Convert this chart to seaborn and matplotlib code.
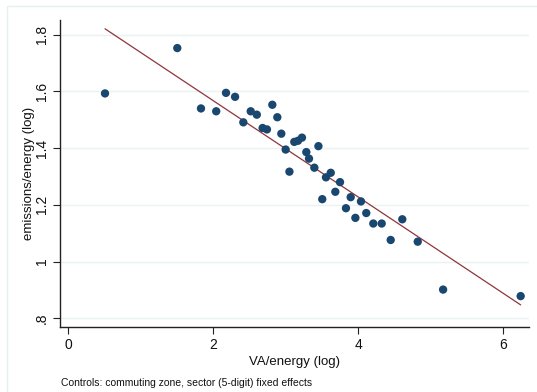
import matplotlib
matplotlib.use("Agg")
import matplotlib.pyplot as plt
import seaborn as sns
import pandas as pd
from matplotlib.patches import Rectangle

# Binned scatter values
va_energy = [0.506, 1.503, 1.83, 2.04, 2.175, 2.30, 2.414, 2.516, 2.60, 2.68,
             2.74, 2.814, 2.883, 2.938, 2.998, 3.05, 3.117, 3.168, 3.223, 3.283,
             3.32, 3.45, 3.394, 3.554, 3.62, 3.748, 3.683, 3.503, 3.895, 4.037,
             3.83, 3.96, 4.11, 4.207, 4.323, 4.607, 4.447, 4.82, 5.17, 6.24]
emis_energy = [1.593, 1.753, 1.540, 1.530, 1.595, 1.581, 1.491, 1.530, 1.518, 1.471,
               1.466, 1.553, 1.509, 1.451, 1.395, 1.317, 1.422, 1.426, 1.437, 1.386,
               1.363, 1.407, 1.331, 1.297, 1.313, 1.280, 1.246, 1.220, 1.227, 1.212,
               1.188, 1.154, 1.171, 1.134, 1.134, 1.149, 1.076, 1.070, 0.901, 0.878]

# Fitted line end points
fit_x = [0.506, 6.24]
fit_y = [1.821, 0.847]

x_ticks = [0, 2, 4, 6]
x_tick_labels = ["0", "2", "4", "6"]
y_ticks = [0.8, 1.0, 1.2, 1.4, 1.6, 1.8]
y_tick_labels = [".8", "1", "1.2", "1.4", "1.6", "1.8"]

sns.set_theme(style="white")
plt.rcParams['font.family'] = ['Liberation Sans', 'DejaVu Sans']

W, H = 537, 392
fig = plt.figure(figsize=(W / 100, H / 100), dpi=100)
fig.patch.set_facecolor("white")

# outer graph frame
fig.add_artist(Rectangle((7 / W, -0.01), 1.2, 1 - 6 / H + 0.01, transform=fig.transFigure,
                         fill=False, edgecolor="#e6eeef", linewidth=1.0))

ax = fig.add_axes([60 / W, 1 - 327 / H, (529 - 60) / W, (327 - 20) / H])
ax.set_facecolor("white")

df = pd.DataFrame({"x": va_energy, "y": emis_energy})
line_df = pd.DataFrame({"x": fit_x, "y": fit_y})

sns.scatterplot(data=df, x="x", y="y", ax=ax, color="#1a476f", s=36,
                edgecolor="none", linewidth=0, zorder=3)
sns.lineplot(data=line_df, x="x", y="y", ax=ax, color="#90353b", linewidth=0.9, zorder=2)

ax.set_xlim(-0.115, 6.355)
ax.set_ylim(0.769, 1.852)

ax.set_xticks(x_ticks)
ax.set_xticklabels(x_tick_labels)
ax.set_yticks(y_ticks)
ax.set_yticklabels(y_tick_labels, rotation=90, va="center")

ax.yaxis.grid(True, color="#eaf2f3", linewidth=1.0)
ax.xaxis.grid(False)
ax.set_axisbelow(True)

for s in ["top", "right"]:
    ax.spines[s].set_visible(False)
for s in ["left", "bottom"]:
    ax.spines[s].set_color("#222222")
    ax.spines[s].set_linewidth(1.0)

ax.tick_params(axis="both", which="major", direction="out", length=5, width=0.8,
               color="#222222", labelsize=10, labelcolor="#111111", pad=3,
               bottom=True, left=True)

ax.set_xlabel("VA/energy (log)", fontsize=9.5, color="#111111", labelpad=3)
ax.set_ylabel("emissions/energy (log)", fontsize=9.5, color="#111111", labelpad=0)

fig.text(61 / W, 1 - 382.5 / H, "Controls: commuting zone, sector (5-digit) fixed effects",
         fontsize=7.5, color="#111111", ha="left", va="center")

fig.savefig("out.png", dpi=100, facecolor="white")
